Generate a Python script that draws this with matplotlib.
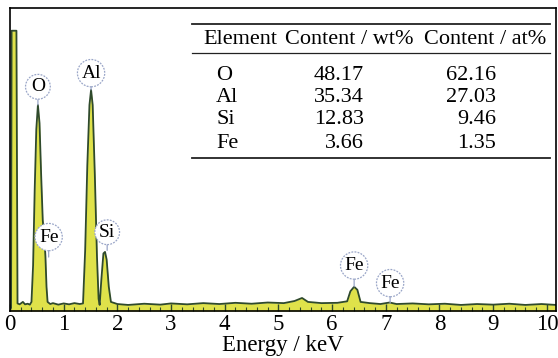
import matplotlib
matplotlib.use("Agg")
import matplotlib.pyplot as plt
from matplotlib.lines import Line2D

plt.rcParams['font.family'] = ['Liberation Serif', 'DejaVu Serif']

# EDS spectrum outline (energy in keV, counts in arbitrary units)
energy = [0.00, 0.02, 0.03, 0.12, 0.14, 0.18, 0.24, 0.28, 0.33, 0.37,
          0.40, 0.43, 0.46, 0.49, 0.52, 0.55, 0.58, 0.61, 0.64, 0.66, 0.68, 0.70,
          0.75, 0.80, 0.90, 1.00, 1.10, 1.20, 1.30, 1.36,
          1.40, 1.44, 1.48, 1.51, 1.54, 1.58, 1.62, 1.65, 1.67, 1.70, 1.74, 1.77,
          1.80, 1.84, 1.88,
          2.0, 2.2, 2.5, 2.8, 3.0, 3.3, 3.6, 3.9, 4.2, 4.5, 4.8, 5.1, 5.3,
          5.44, 5.55, 5.8, 6.1, 6.28, 6.34, 6.41, 6.47, 6.53, 6.7, 6.9, 7.07,
          7.2, 7.5, 7.8, 8.1, 8.4, 8.7, 9.0, 9.3, 9.6, 9.9, 10.17]
counts = [0.5, 1.0, 92.5, 92.5, 2.5, 2.2, 3.0, 2.2, 2.4, 2.1,
          3.0, 15.0, 40.0, 60.0, 68.0, 62.0, 45.0, 30.0, 24.0, 18.0, 8.0, 3.0,
          2.3, 2.6, 2.1, 2.5, 2.2, 2.6, 2.3, 2.5,
          20.0, 48.0, 68.0, 73.0, 68.0, 45.0, 18.0, 4.0, 2.0, 10.0, 19.0, 19.5,
          17.0, 8.0, 3.0,
          2.3, 2.0, 2.4, 2.1, 2.5, 2.2, 2.6, 2.3, 2.7, 2.4, 2.8, 2.6, 3.3,
          4.3, 3.0, 2.6, 2.7, 3.2, 6.5, 8.0, 7.0, 3.0, 2.6, 2.3, 2.8,
          2.3, 2.5, 2.2, 2.4, 2.0, 2.3, 2.1, 2.4, 2.0, 2.3, 2.0]

# peak labels: text, label position (keV, counts), peak tip (keV, counts)
peak_names = ['O', 'Al', 'Fe', 'Si', 'Fe', 'Fe']
peak_label_pos = [(0.52, 74.0), (1.51, 78.5), (0.72, 24.4), (1.81, 26.0), (6.41, 15.0), (7.08, 9.2)]
peak_tips = [(0.52, 68.0), (1.51, 73.0), (0.72, 17.8), (1.81, 20.0), (6.41, 8.0), (7.08, 2.6)]

# composition table
elements = ['O', 'Al', 'Si', 'Fe']
wt_pct = ['48.17', '35.34', '12.83', '3.66']
at_pct = ['62.16', '27.03', '9.46', '1.35']

W, H = 558, 358
fig = plt.figure(figsize=(W / 100, H / 100), dpi=100)
ax = fig.add_axes([10 / W, 1 - 311 / H, 546 / W, 303 / H])

ax.fill_between(energy, counts, 0, color='#dfe24a', lw=0)
ax.plot(energy, counts, color='#2f4a2c', lw=1.3)

ax.set_xlim(0, 10.17)
ax.set_ylim(0, 100)
ax.set_xticks(range(11))
ax.set_xticks([i * 0.2 for i in range(51)], minor=True)
ax.set_yticks([])
ax.tick_params(axis='x', which='major', direction='in', length=5, width=1,
               color='#2f4a2c', labelsize=16.5, pad=2)
ax.tick_params(axis='x', which='minor', direction='in', length=3, width=0.8,
               color='#2f4a2c')
ax.set_xlabel('Energy / keV', fontsize=16.5, labelpad=0)
for s in ax.spines.values():
    s.set_linewidth(1.2)

bubble = dict(boxstyle='circle,pad=0.2', fc='white', ec='#9aa6c8', lw=0.9, ls=(0, (1.5, 1)))
for name, pos, tip in zip(peak_names, peak_label_pos, peak_tips):
    ax.annotate(name, xy=tip, xytext=pos, ha='center', va='center', fontsize=14,
                bbox=bubble,
                arrowprops=dict(arrowstyle='-', color='#9aa6c8', lw=0.9,
                                shrinkA=0, shrinkB=0))

# table drawn in figure pixel coordinates
def fx(px):
    return px / W

def fy(py):
    return 1 - py / H

fs = 16
fig.add_artist(Line2D([fx(192), fx(550)], [fy(24), fy(24)], color='#222', lw=1.3))
fig.add_artist(Line2D([fx(192), fx(550)], [fy(53), fy(53)], color='#222', lw=0.9))
fig.add_artist(Line2D([fx(192), fx(550)], [fy(158), fy(158)], color='#222', lw=1.3))
fig.text(fx(240), fy(40), 'Element', ha='center', va='center', fontsize=fs)
fig.text(fx(349), fy(40), 'Content / wt%', ha='center', va='center', fontsize=fs)
fig.text(fx(485), fy(40), 'Content / at%', ha='center', va='center', fontsize=fs)
row_y = [75, 98, 120, 143]
for el, w, a, ry in zip(elements, wt_pct, at_pct, row_y):
    fig.text(fx(216), fy(ry), el, ha='left', va='center', fontsize=fs)
    fig.text(fx(364), fy(ry), w, ha='right', va='center', fontsize=fs)
    fig.text(fx(496), fy(ry), a, ha='right', va='center', fontsize=fs)

fig.savefig('out.png', dpi=100, facecolor='white')
